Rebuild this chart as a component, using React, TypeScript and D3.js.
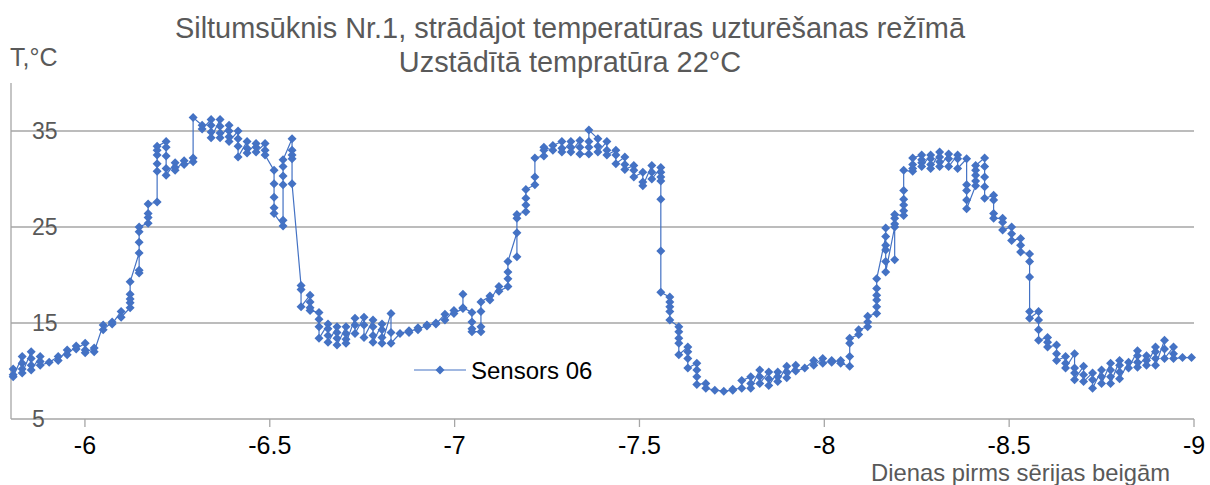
import React from "react";
import * as d3 from "d3";

const title1 = "Siltumsūknis Nr.1, strādājot temperatūras uzturēšanas režīmā";
const title2 = "Uzstādītā tempratūra 22°C";
const yAxisTitle = "T,°C";
const xAxisTitle = "Dienas pirms sērijas beigām";
const seriesName = "Sensors 06";

const xTicks = [-6, -6.5, -7, -7.5, -8, -8.5, -9];
const yTicks = [5, 15, 25, 35];

// sampling grid of the sensor (days before the end of the series)
const firstDay = -5.806;
const sampleStep = 0.02433;

// readings of "Sensors 06" at each sample time (°C), in recorded order
const sensor06: number[][] = [
  [10.2, 9.6, 9.4],
  [11.5, 10.8, 10.2, 9.8],
  [12.0, 11.3, 10.6, 10.1],
  [11.5, 11.0, 10.6],
  [10.9],
  [11.5, 11.1],
  [12.2, 11.7],
  [12.6, 12.3],
  [12.9, 12.2, 11.9],
  [12.4, 12.0],
  [14.8, 14.3],
  [15.1, 14.9],
  [16.2, 15.6],
  [16.6, 17.1, 17.5, 18.0, 19.3],
  [22.3, 20.2, 20.5, 23.4, 24.5, 25.0],
  [25.4, 26.0, 26.4, 27.4],
  [27.6, 30.8, 31.6, 32.5, 33.0, 33.4],
  [33.9, 33.3, 32.4, 31.1, 30.4],
  [31.7, 31.2, 30.9],
  [31.9, 31.5],
  [31.8, 32.2, 36.4],
  [35.6, 35.2],
  [36.2, 35.6, 34.9, 34.3],
  [36.2, 35.5, 34.8, 34.3],
  [35.6, 35.0, 34.4, 33.9],
  [35.0, 34.2, 33.4, 32.3],
  [33.9, 33.2, 32.7],
  [33.7, 33.3, 32.8],
  [33.7, 33.0, 32.5],
  [30.9, 29.5, 28.1, 27.0, 26.4],
  [25.1, 25.7, 29.4, 30.3, 31.3, 32.0],
  [34.2, 33.0, 32.5, 32.1, 29.5],
  [18.9, 18.5, 16.7],
  [17.9, 17.2, 16.6, 16.3],
  [16.1, 15.4, 14.6, 13.4],
  [14.9, 14.4, 13.7, 13.0],
  [14.6, 14.0, 13.4, 12.7],
  [14.6, 13.9, 13.3, 12.9],
  [15.5, 14.8, 13.9],
  [15.6, 14.8, 13.5],
  [15.3, 14.6, 13.7, 13.0],
  [14.9, 14.3, 13.5, 12.9],
  [16.0, 14.0, 12.9],
  [13.9],
  [14.2, 14.0],
  [14.5, 14.3],
  [14.8, 14.7],
  [15.0, 14.9],
  [15.9, 15.3],
  [16.3, 16.0],
  [16.5, 18.0, 16.6],
  [16.1, 15.1, 14.4, 14.1],
  [14.1, 14.6, 16.2, 17.2],
  [17.8, 17.4],
  [18.8, 18.3],
  [18.8, 19.6, 20.3, 21.4],
  [24.4, 21.9, 25.9, 26.3],
  [26.6, 27.3, 28.0, 28.9],
  [29.4, 30.2, 32.2],
  [32.4, 33.0, 33.3],
  [33.0, 33.5],
  [33.9, 33.2, 32.8],
  [33.9, 33.3, 32.8],
  [34.0, 33.3, 32.6],
  [32.6, 33.3, 33.9, 35.1],
  [34.2, 33.4, 32.8],
  [33.9, 33.0, 32.5],
  [33.0, 32.5, 31.6],
  [32.3, 31.5, 31.0],
  [31.4, 30.9, 30.2],
  [30.7, 29.7, 29.3],
  [31.4, 30.7, 30.0],
  [31.2, 30.7, 30.2, 29.8, 27.9, 22.5, 18.2],
  [17.7, 17.2, 16.7, 16.2, 15.3],
  [14.6, 14.1, 13.4, 12.9, 11.7],
  [12.5, 12.0, 11.3, 10.3],
  [10.8, 10.1, 9.4, 8.6],
  [8.7, 8.2],
  [8.0],
  [7.9],
  [8.0, 8.1],
  [8.2, 9.0],
  [9.4, 8.7, 8.2],
  [10.1, 9.4, 8.7],
  [9.9, 9.2, 8.5],
  [9.9, 9.4, 8.9],
  [10.5, 9.9, 9.3],
  [10.6, 10.0],
  [10.3],
  [11.1, 10.6],
  [11.3, 10.8],
  [11.1, 10.9],
  [11.1, 10.8],
  [10.5, 11.5, 12.9, 13.4],
  [13.8, 14.3],
  [14.6, 15.1, 15.7],
  [16.0, 16.7, 17.4, 17.9, 18.6, 19.6],
  [24.0, 24.9, 23.1, 22.6, 21.4, 20.3],
  [25.0, 21.6, 25.3, 25.9, 26.3],
  [26.2, 26.7, 27.3, 27.9, 28.8, 30.9],
  [30.8, 31.1, 31.5, 32.2],
  [32.5, 32.0, 31.7, 31.3],
  [32.5, 32.1, 31.5, 31.1],
  [32.8, 32.3, 31.8, 31.3],
  [32.6, 32.1, 31.3],
  [32.5, 32.1, 31.1],
  [32.1, 29.4, 28.8, 27.8, 26.9],
  [29.3, 29.8, 30.4, 30.9, 31.4],
  [32.2, 31.3, 30.2, 29.2, 28.0],
  [28.3, 27.8, 26.4, 25.9],
  [25.9, 25.5, 24.7],
  [25.0, 24.3, 23.6],
  [23.8, 23.1, 22.4],
  [22.2, 21.4, 19.8, 16.2, 15.5],
  [16.2, 15.3, 14.3, 13.2],
  [13.5, 13.0, 12.5],
  [12.7, 11.8, 11.1],
  [11.5, 10.8, 10.3],
  [11.8, 10.3, 9.8, 9.1],
  [10.5, 9.6, 8.9],
  [9.8, 9.1, 8.2],
  [10.1, 9.4, 8.7],
  [10.8, 10.1, 9.4, 8.7],
  [11.1, 10.6, 9.9, 9.2],
  [10.9, 10.3],
  [12.1, 11.6, 10.9, 10.4],
  [11.6, 11.1, 10.6],
  [12.5, 12.0, 11.3, 10.6],
  [13.2, 12.3, 11.3],
  [12.5, 11.8, 11.3],
  [11.4],
  [11.4],
];

const W = 1210;
const H = 485;
const FONT = "'Liberation Sans', Arial, sans-serif";
const BLUE = "#4472C4";
const GRID = "#A6A6A6";
const TEXT_GRAY = "#595959";

const x = d3.scaleLinear().domain([-5.8, -9]).range([11, 1194]);
const y = d3.scaleLinear().domain([5, 40]).range([419, 83]);

type Pt = { d: number; v: number };
const points: Pt[] = sensor06.flatMap((vals, i) =>
  vals.map((v) => ({ d: firstDay - i * sampleStep, v }))
);

const line = d3
  .line<Pt>()
  .x((p) => x(p.d))
  .y((p) => y(p.v));

const R = 4.5;
const diamond = `M0,${-R}L${R},0L0,${R}L${-R},0Z`;

export default function App() {
  const [x0, x1] = x.range();
  const [yBottom, yTop] = y.range();
  return (
    <svg
      width={W}
      height={H}
      style={{ position: "absolute", left: 0, top: 0, background: "#fff" }}
      fontFamily={FONT}
    >
      <rect width={W} height={H} fill="#fff" />
      {/* titles */}
      <text x={570} y={38} textAnchor="middle" fontSize={28.9} fill={TEXT_GRAY}>
        {title1}
      </text>
      <text x={570} y={72} textAnchor="middle" fontSize={28.9} fill={TEXT_GRAY}>
        {title2}
      </text>
      <text x={10} y={66} fontSize={25} fill={TEXT_GRAY}>
        {yAxisTitle}
      </text>
      <text x={1170} y={481} textAnchor="end" fontSize={23.8} fill={TEXT_GRAY}>
        {xAxisTitle}
      </text>

      {/* gridlines */}
      {yTicks
        .filter((t) => t !== 5)
        .map((t) => (
          <line
            key={"g" + t}
            x1={x0}
            x2={x1}
            y1={y(t)}
            y2={y(t)}
            stroke={GRID}
            strokeWidth={1.3}
          />
        ))}
      {/* axes */}
      <line x1={x0} x2={x0} y1={yTop} y2={yBottom} stroke={GRID} strokeWidth={1.3} />
      <line x1={x0} x2={x1} y1={yBottom} y2={yBottom} stroke={GRID} strokeWidth={1.3} />
      {xTicks.map((t) => (
        <g key={"xt" + t}>
          <line
            x1={x(t)}
            x2={x(t)}
            y1={yBottom}
            y2={yBottom + 8}
            stroke={GRID}
            strokeWidth={1.3}
          />
          <text
            x={x(t)}
            y={yBottom + 35}
            textAnchor="middle"
            fontSize={25}
            fill="#000"
          >
            {String(t)}
          </text>
        </g>
      ))}
      {yTicks.map((t) => (
        <text
          key={"yt" + t}
          x={32}
          y={y(t)}
          dy="0.36em"
          fontSize={23}
          fill={TEXT_GRAY}
        >
          {String(t)}
        </text>
      ))}

      {/* series */}
      <path d={line(points) || ""} fill="none" stroke={BLUE} strokeWidth={1.2} />
      {points.map((p, i) => (
        <path
          key={i}
          d={diamond}
          transform={`translate(${x(p.d)},${y(p.v)})`}
          fill={BLUE}
        />
      ))}

      {/* legend */}
      <line x1={414} x2={466} y1={370} y2={370} stroke={BLUE} strokeWidth={1.2} />
      <path d={diamond} transform="translate(440,370)" fill={BLUE} />
      <text x={471} y={370} dy="0.36em" fontSize={24} fill="#000">
        {seriesName}
      </text>
    </svg>
  );
}
